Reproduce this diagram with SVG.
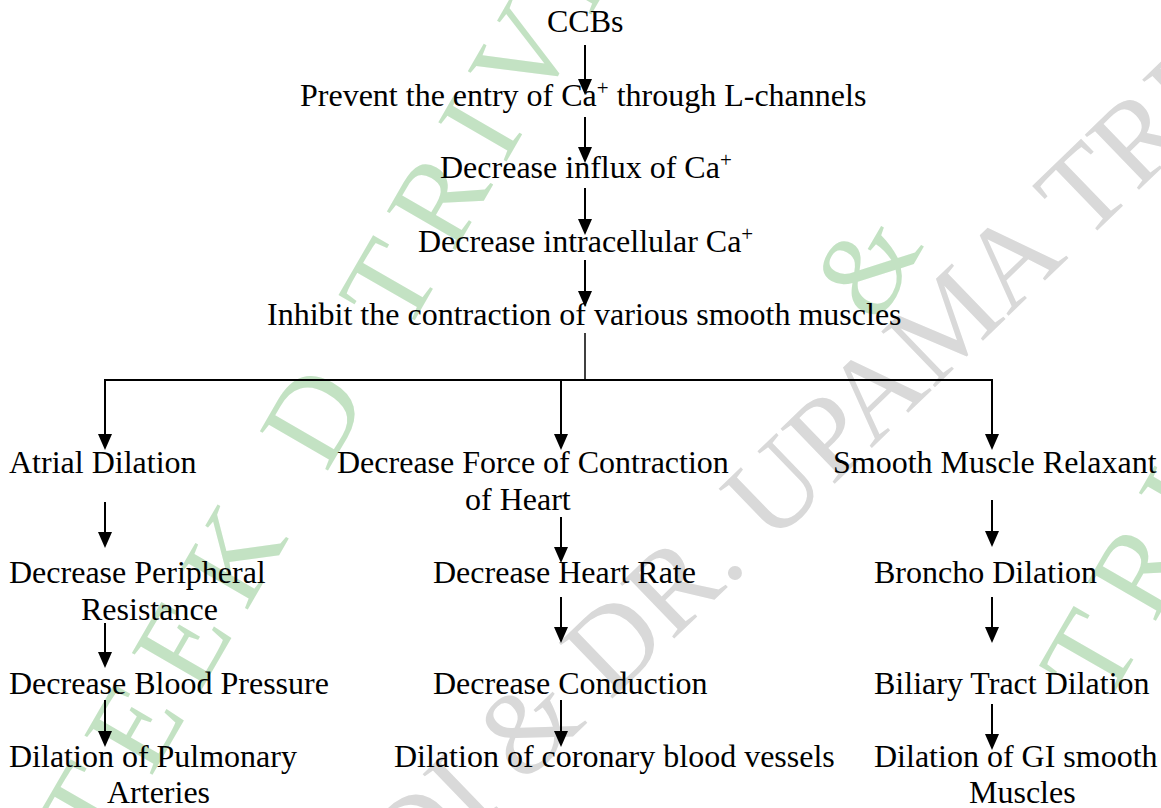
<svg xmlns="http://www.w3.org/2000/svg" width="1161" height="808" viewBox="0 0 1161 808">
<style>
  .t { font-family: "Liberation Serif", "Times New Roman", serif; font-size: 32px; fill: #000; }
  .sup { font-size: 21px; }
  .wm { font-family: "Liberation Serif", "Times New Roman", serif; font-size: 120px; }
  .wg { fill: #c3e2c3; }
  .wy { fill: #d9d9d9; }
  .ar { stroke: #000; stroke-width: 2; fill: none; marker-end: url(#ah); }
  .ln { stroke: #000; stroke-width: 2; fill: none; }
</style>
<defs>
  <marker id="ah" viewBox="0 0 16 14" refX="13" refY="7" markerWidth="16" markerHeight="14" markerUnits="userSpaceOnUse" orient="auto">
    <path d="M0,0 L16,7 L0,14 Z" fill="#000"/>
  </marker>
</defs>
<rect x="0" y="0" width="1161" height="808" fill="#fff"/>

<g id="watermark">
  <text class="wm wg" letter-spacing="22" transform="translate(-40,1108) rotate(-60)">PRATEEK D TRIVEDI</text>
  <text class="wm wg" x="0" y="40" text-anchor="middle" transform="translate(867,265) rotate(-60)">&amp;</text>
  <text class="wm wg" letter-spacing="22" transform="translate(1106,707) rotate(-60)">TRIVEDI</text>
  <text class="wm wy" style="font-size:118px" transform="translate(412,892) rotate(-44)">DI &amp; DR. UPAMA TRIVEDI</text>
</g>

<g id="connectors">
  <line class="ar" x1="585" y1="45" x2="585" y2="92"/>
  <line class="ar" x1="585" y1="117" x2="585" y2="160"/>
  <line class="ar" x1="585" y1="188" x2="585" y2="232"/>
  <line class="ar" x1="585" y1="260" x2="585" y2="304"/>
  <line class="ln" x1="585" y1="333" x2="585" y2="380" style="stroke-width:1.5"/>
  <line class="ln" x1="104" y1="380" x2="993" y2="380"/>
  <line class="ar" x1="105" y1="380" x2="105" y2="447"/>
  <line class="ar" x1="561" y1="380" x2="561" y2="447"/>
  <line class="ar" x1="992" y1="380" x2="992" y2="447"/>
  <line class="ar" x1="105" y1="502" x2="105" y2="545"/>
  <line class="ar" x1="105" y1="623" x2="105" y2="665"/>
  <line class="ar" x1="105" y1="700" x2="105" y2="744"/>
  <line class="ar" x1="561" y1="517" x2="561" y2="560"/>
  <line class="ar" x1="561" y1="597" x2="561" y2="640"/>
  <line class="ar" x1="561" y1="700" x2="561" y2="744"/>
  <line class="ar" x1="992" y1="500" x2="992" y2="544"/>
  <line class="ar" x1="992" y1="597" x2="992" y2="640"/>
  <line class="ar" x1="992" y1="704" x2="992" y2="747"/>
</g>

<g id="ccbs"><text class="t" x="547" y="32">CCBs</text></g>
<g id="prevent"><text class="t" x="300" y="106">Prevent the entry of Ca<tspan class="sup" dy="-11">+</tspan><tspan dy="11"> through L-channels</tspan></text></g>
<g id="influx"><text class="t" x="440" y="178">Decrease influx of Ca<tspan class="sup" dy="-11">+</tspan></text></g>
<g id="intracellular"><text class="t" x="418" y="252">Decrease intracellular Ca<tspan class="sup" dy="-11">+</tspan></text></g>
<g id="inhibit"><text class="t" x="267" y="325">Inhibit the contraction of various smooth muscles</text></g>

<g id="atrial"><text class="t" x="9" y="473">Atrial Dilation</text></g>
<g id="force"><text class="t" x="337" y="473">Decrease Force of Contraction</text><text class="t" x="465" y="510">of Heart</text></g>
<g id="smooth"><text class="t" x="833" y="473">Smooth Muscle Relaxant</text></g>

<g id="peripheral"><text class="t" x="9" y="583">Decrease Peripheral</text><text class="t" x="81" y="620">Resistance</text></g>
<g id="heartrate"><text class="t" x="433" y="583">Decrease Heart Rate</text></g>
<g id="broncho"><text class="t" x="874" y="583">Broncho Dilation</text></g>

<g id="bp"><text class="t" x="9" y="694">Decrease Blood Pressure</text></g>
<g id="conduction"><text class="t" x="433" y="694">Decrease Conduction</text></g>
<g id="biliary"><text class="t" x="874" y="694">Biliary Tract Dilation</text></g>

<g id="pulmonary"><text class="t" x="9" y="767">Dilation of Pulmonary</text><text class="t" x="107" y="803">Arteries</text></g>
<g id="coronary"><text class="t" x="394" y="767">Dilation of coronary blood vessels</text></g>
<g id="gi"><text class="t" x="874" y="767">Dilation of GI smooth</text><text class="t" x="969" y="803">Muscles</text></g>
</svg>
